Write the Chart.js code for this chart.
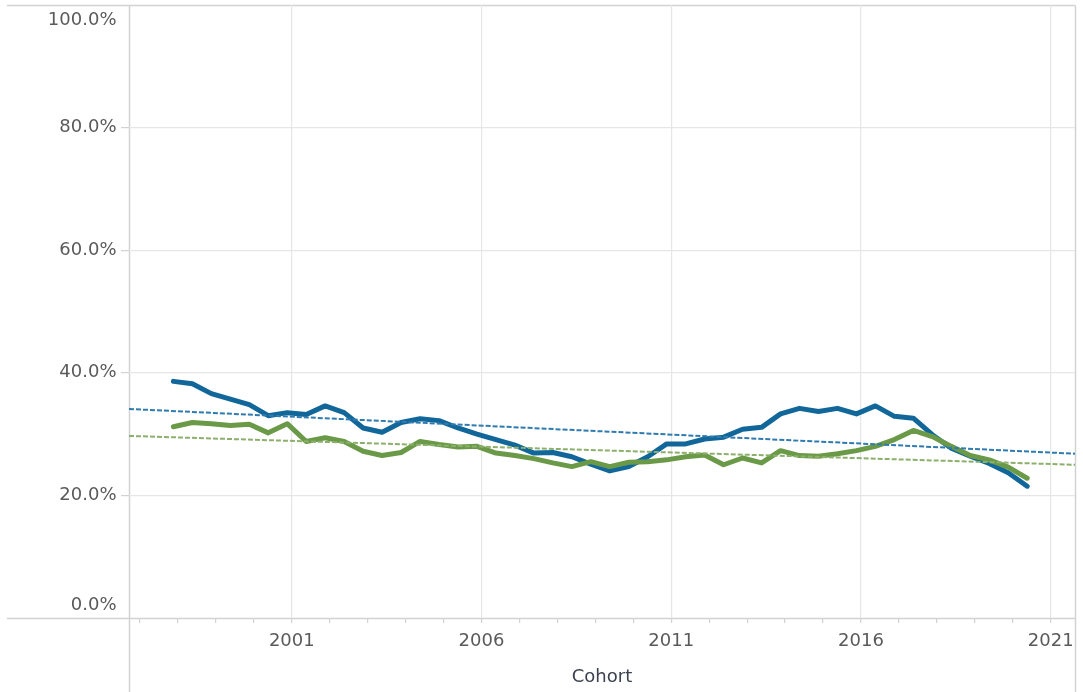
<!DOCTYPE html>
<html>
<head>
<meta charset="utf-8">
<script src="https://cdn.jsdelivr.net/npm/chart.js@4.4.1/dist/chart.umd.min.js"></script>
<style>
    html, body { margin: 0; padding: 0; background: #fff; }
    #chart { display: block; }
</style>
</head>
<body>
<canvas id="chart" width="1083" height="692"></canvas>
<script>
// Datas

const cohorts = [
    1997.88, 1998.38, 1998.88, 1999.38, 1999.88, 2000.38, 2000.88, 2001.38, 2001.88, 2002.38,
    2002.88, 2003.38, 2003.88, 2004.38, 2004.88, 2005.38, 2005.88, 2006.38, 2006.88, 2007.38,
    2007.88, 2008.38, 2008.88, 2009.38, 2009.88, 2010.38, 2010.88, 2011.38, 2011.88, 2012.38,
    2012.88, 2013.38, 2013.88, 2014.38, 2014.88, 2015.38, 2015.88, 2016.38, 2016.88, 2017.38,
    2017.88, 2018.38, 2018.88, 2019.38, 2019.88, 2020.38
]

const seriesOne = [
    38.6, 38.2, 36.6, 35.7, 34.8, 33.0, 33.5, 33.2, 34.6, 33.5,
    31.0, 30.3, 31.9, 32.5, 32.2, 31.0, 30.0, 29.1, 28.2, 26.9,
    27.0, 26.3, 25.1, 24.0, 24.7, 26.3, 28.4, 28.4, 29.2, 29.5,
    30.8, 31.1, 33.3, 34.2, 33.7, 34.2, 33.3, 34.6, 32.9, 32.6,
    29.9, 27.7, 26.4, 25.2, 23.7, 21.5
]

const seriesTwo = [
    31.2, 31.9, 31.7, 31.4, 31.6, 30.2, 31.7, 28.8, 29.4, 28.8,
    27.2, 26.5, 27.0, 28.8, 28.3, 27.9, 28.0, 26.9, 26.5, 26.0,
    25.3, 24.7, 25.5, 24.7, 25.4, 25.5, 25.8, 26.3, 26.6, 25.0,
    26.1, 25.3, 27.3, 26.5, 26.4, 26.8, 27.3, 28.0, 29.1, 30.6,
    29.6, 28.0, 26.5, 25.8, 24.6, 22.8
]

// trend lines (value at left and right end of the axis)
const trendX = [1996.71, 2021.64]
const trendOne = [34.1, 26.8]
const trendTwo = [29.7, 25.0]

const yearTicks = [
    1997, 1998, 1999, 2000, 2001, 2002, 2003, 2004, 2005, 2006, 2007, 2008, 2009,
    2010, 2011, 2012, 2013, 2014, 2015, 2016, 2017, 2018, 2019, 2020, 2021
]
const yearLabels = ['2001', '2006', '2011', '2016', '2021']
const percentTicks = [0, 20, 40, 60, 80, 100]

const toPoints = (xs, ys) => xs.map((x, i) => ({ x: x, y: ys[i] }))
const isLabelled = (value) => yearLabels.includes(String(value))

const FONT = { family: 'DejaVu Sans', size: 18 }
const FRAME = '#d2d2d2'
const GRID = '#e6e6e6'
const TEXT = '#5a5a5a'

// frame lines + y labels, Tableau keeps the end labels inside the pane
const framePlugin = {
    id: 'frame',
    beforeDraw: (chart) => {
        const { ctx, chartArea } = chart
        const left = Math.round(chartArea.left) + 0.5
        const right = Math.round(chartArea.right) + 0.5
        const top = Math.round(chartArea.top) + 0.5
        const bottom = Math.round(chartArea.bottom) + 0.5
        ctx.save()
        ctx.strokeStyle = FRAME
        ctx.lineWidth = 1.5
        ctx.beginPath()
        ctx.moveTo(7, top); ctx.lineTo(right, top)
        ctx.moveTo(7, bottom); ctx.lineTo(right, bottom)
        ctx.moveTo(left, top); ctx.lineTo(left, chart.height)
        ctx.moveTo(right, top); ctx.lineTo(right, chart.height)
        ctx.stroke()
        ctx.restore()
    },
    afterDraw: (chart) => {
        const { ctx, chartArea } = chart
        const yScale = chart.scales.y
        ctx.save()
        ctx.font = `${FONT.size}px "${FONT.family}"`
        ctx.fillStyle = TEXT
        ctx.textAlign = 'right'
        ctx.textBaseline = 'middle'
        yScale.ticks.forEach(tick => {
            let y = yScale.getPixelForValue(tick.value)
            y = Math.min(Math.max(y, chartArea.top + 15), chartArea.bottom - 13)
            ctx.fillText(tick.value.toFixed(1) + '%', 116.5, y)
        })
        ctx.restore()
    }
}

const render = () => {
    const chart = new Chart(document.getElementById('chart'), {
        type: 'line',
        data: {
            datasets: [
                {
                    data: toPoints(trendX, trendOne),
                    borderColor: '#2f7bb0',
                    borderWidth: 2,
                    borderDash: [5, 2],
                    pointRadius: 0,
                    order: 0,
                },
                {
                    data: toPoints(trendX, trendTwo),
                    borderColor: '#8cb06b',
                    borderWidth: 2,
                    borderDash: [5, 2],
                    pointRadius: 0,
                    order: 0,
                },
                {
                    data: toPoints(cohorts, seriesTwo),
                    borderColor: '#6a9a47',
                    borderWidth: 5,
                    borderJoinStyle: 'round',
                    borderCapStyle: 'round',
                    pointRadius: 0,
                    order: 1,
                },
                {
                    data: toPoints(cohorts, seriesOne),
                    borderColor: '#11679a',
                    borderWidth: 5,
                    borderJoinStyle: 'round',
                    borderCapStyle: 'round',
                    pointRadius: 0,
                    order: 2,
                },
            ],
        },
        options: {
            responsive: false,
            animation: false,
            events: [],
            layout: { padding: { top: 5, right: 8, left: 0, bottom: 0 } },
            plugins: {
                legend: { display: false },
                tooltip: { enabled: false },
            },
            scales: {
                x: {
                    type: 'linear',
                    min: trendX[0],
                    max: trendX[1],
                    afterBuildTicks: (scale) => {
                        scale.ticks = yearTicks.map(v => ({ value: v }))
                    },
                    afterFit: (scale) => { scale.height = 74 },
                    border: { display: false },
                    grid: {
                        color: (ctx) => ctx.tick && isLabelled(ctx.tick.value) ? GRID : 'rgba(0,0,0,0)',
                        tickColor: FRAME,
                        tickLength: 5,
                        lineWidth: 1.2,
                    },
                    ticks: {
                        autoSkip: false,
                        maxRotation: 0,
                        padding: 8,
                        color: TEXT,
                        font: FONT,
                        callback: (value) => isLabelled(value) ? String(value) : '',
                    },
                    title: {
                        display: true,
                        text: 'Cohort',
                        color: '#3c4250',
                        font: FONT,
                        padding: { top: 0, bottom: 4 },
                    },
                },
                y: {
                    min: 0,
                    max: 100,
                    afterBuildTicks: (scale) => {
                        scale.ticks = percentTicks.map(v => ({ value: v }))
                    },
                    afterFit: (scale) => { scale.width = 129 },
                    border: { display: false },
                    grid: {
                        color: (ctx) => ctx.tick && ctx.tick.value > 0 && ctx.tick.value < 100 ? GRID : 'rgba(0,0,0,0)',
                        tickColor: (ctx) => ctx.tick && ctx.tick.value > 0 && ctx.tick.value < 100 ? FRAME : 'rgba(0,0,0,0)',
                        tickLength: 8,
                        lineWidth: 1.2,
                    },
                    ticks: { display: false },
                },
            },
        },
        plugins: [framePlugin],
    })
}

render()
</script>
</body>
</html>
